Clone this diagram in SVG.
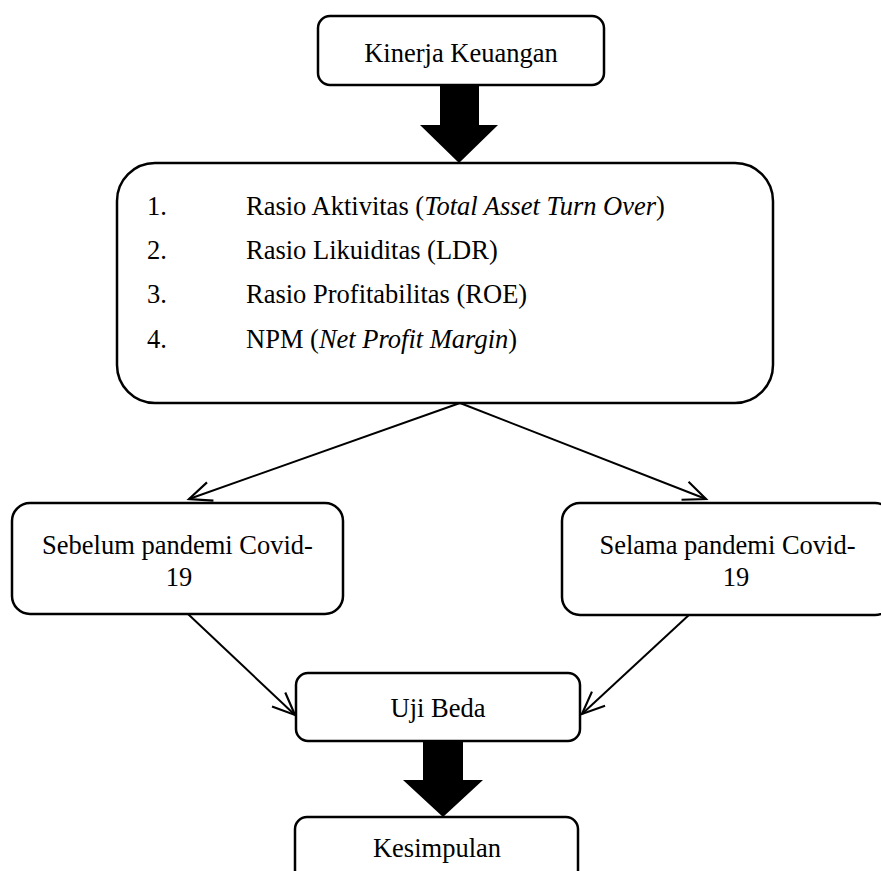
<svg xmlns="http://www.w3.org/2000/svg" width="881" height="871" viewBox="0 0 881 871">
<style>
.box{fill:#fff;stroke:#000;stroke-width:2.5}
.t{font-family:"Liberation Serif","Times New Roman",serif;font-size:26.5px;fill:#000}
.c{text-anchor:middle}
.conn{stroke:#000;stroke-width:2;fill:none}
.big{fill:#000;stroke:none}
</style>
<defs>
<marker id="open" markerUnits="userSpaceOnUse" markerWidth="30" markerHeight="30" viewBox="-24 -12 28 24" refX="0" refY="0" orient="auto">
<path d="M-21,-9 L0,0 L-21,9" fill="none" stroke="#000" stroke-width="2"/>
</marker>
</defs>
<rect width="881" height="871" fill="#fff"/>
<g id="connectors">
<polygon class="big" points="440,85 479,85 479,125 498,125 459,163 420,125 440,125"/>
<polygon class="big" points="423,741 463,741 463,780 483,780 443,817 403,780 423,780"/>
<line class="conn" x1="460" y1="403" x2="189" y2="499" marker-end="url(#open)"/>
<line class="conn" x1="460" y1="403" x2="706" y2="499" marker-end="url(#open)"/>
<line class="conn" x1="188" y1="614" x2="295" y2="715" marker-end="url(#open)"/>
<line class="conn" x1="690" y1="614" x2="582" y2="714" marker-end="url(#open)"/>
</g>
<g id="kinerja">
<rect class="box" x="318" y="16" width="286" height="69" rx="12"/>
<text class="t c" x="461" y="62">Kinerja Keuangan</text>
</g>
<g id="rasio">
<rect class="box" x="117" y="163" width="656" height="240" rx="38"/>
<text class="t" x="147" y="215">1.</text>
<text class="t" x="246" y="215">Rasio Aktivitas (<tspan font-style="italic">Total Asset Turn Over</tspan>)</text>
<text class="t" x="147" y="259">2.</text>
<text class="t" x="246" y="259">Rasio Likuiditas (LDR)</text>
<text class="t" x="147" y="303">3.</text>
<text class="t" x="246" y="303">Rasio Profitabilitas (ROE)</text>
<text class="t" x="147" y="348">4.</text>
<text class="t" x="246" y="348">NPM (<tspan font-style="italic">Net Profit Margin</tspan>)</text>
</g>
<g id="sebelum">
<rect class="box" x="12" y="503" width="331" height="111" rx="18"/>
<text class="t c" x="177.5" y="554">Sebelum pandemi Covid-</text>
<text class="t c" x="179" y="586">19</text>
</g>
<g id="selama">
<rect class="box" x="562" y="503" width="331" height="112" rx="18"/>
<text class="t c" x="727.5" y="554">Selama pandemi Covid-</text>
<text class="t c" x="736" y="586">19</text>
</g>
<g id="ujibeda">
<rect class="box" x="296" y="673" width="284" height="68" rx="12"/>
<text class="t c" x="438" y="717">Uji Beda</text>
</g>
<g id="kesimpulan">
<rect class="box" x="295" y="817" width="283" height="70" rx="12"/>
<text class="t c" x="437" y="857">Kesimpulan</text>
</g>
</svg>
